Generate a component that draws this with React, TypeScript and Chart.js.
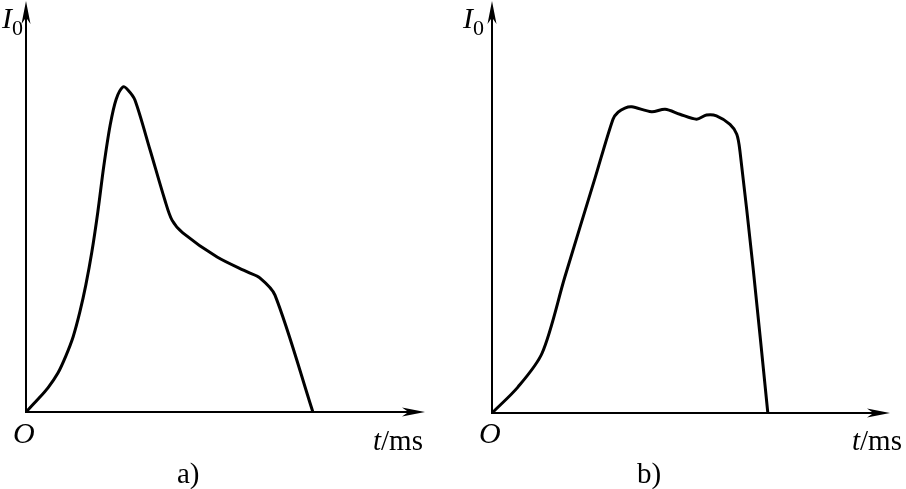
import React, { useEffect, useRef } from "react";
import { Chart, registerables } from "chart.js";

Chart.register(...registerables);

// Panel a) — t (ms, arbitrary units) and I0 (relative)
const timeA = [0, 0.28, 0.55, 0.8, 1.0, 1.18, 1.35, 1.5, 1.65, 1.8, 1.95, 2.11, 2.26, 2.43, 2.56, 2.73, 3.11, 3.48, 3.66, 3.93, 4.79, 5.56, 5.86, 6.24, 7.19];
const currentA = [0, 2.9, 5.9, 9.5, 13.7, 18.3, 24.4, 31.0, 39.0, 48.8, 60.0, 70.0, 76.3, 79.3, 78.5, 76.1, 63.9, 51.7, 46.8, 43.7, 37.8, 34.1, 32.7, 28.5, 0];

// Panel b)
const timeB = [0, 0.65, 1.26, 1.83, 2.59, 3.04, 3.17, 3.34, 3.51, 4.01, 4.35, 4.72, 5.14, 5.39, 5.64, 5.98, 6.15, 6.23, 6.56, 6.93];
const currentB = [0, 6.3, 14.6, 33.1, 57.2, 71.5, 73.2, 74.2, 74.5, 73.3, 73.9, 72.7, 71.5, 72.5, 72.3, 70.2, 67.8, 63.7, 35.3, 0];

const X_MAX = 10;
const Y_MAX = 100;

type Labels = {
  iX: number;
  oX: number;
  tX: number;
  capX: number;
  caption: string;
};

const SERIF = '"Liberation Serif", "DejaVu Serif", serif';

function axesPlugin(lbl: Labels) {
  return {
    id: "axesArrows",
    afterDatasetsDraw(chart: any) {
      const { ctx, chartArea } = chart;
      const { left, right, top, bottom } = chartArea;
      ctx.save();
      ctx.strokeStyle = "#000";
      ctx.fillStyle = "#000";
      ctx.lineWidth = 2;
      // x axis
      ctx.beginPath();
      ctx.moveTo(left, bottom);
      ctx.lineTo(right - 6, bottom);
      ctx.stroke();
      // y axis
      ctx.beginPath();
      ctx.moveTo(left, bottom + 1);
      ctx.lineTo(left, top + 6);
      ctx.stroke();
      const L = 23, W = 4.5, N = 0.72;
      // x arrowhead
      ctx.beginPath();
      ctx.moveTo(right, bottom);
      ctx.lineTo(right - L, bottom - W);
      ctx.lineTo(right - L * N, bottom);
      ctx.lineTo(right - L, bottom + W);
      ctx.closePath();
      ctx.fill();
      // y arrowhead
      ctx.beginPath();
      ctx.moveTo(left, top - 1);
      ctx.lineTo(left - W, top - 1 + L);
      ctx.lineTo(left, top - 1 + L * N);
      ctx.lineTo(left + W, top - 1 + L);
      ctx.closePath();
      ctx.fill();

      ctx.textBaseline = "alphabetic";
      ctx.textAlign = "left";
      // I0
      ctx.font = `italic 30px ${SERIF}`;
      ctx.fillText("I", lbl.iX, 28);
      ctx.font = `22px ${SERIF}`;
      ctx.fillText("0", lbl.iX + 10, 35);
      // O
      ctx.font = `italic 30px ${SERIF}`;
      ctx.fillText("O", lbl.oX, 443);
      // t/ms
      ctx.font = `italic 29px ${SERIF}`;
      ctx.fillText("t", lbl.tX, 450);
      const tw = ctx.measureText("t").width;
      ctx.font = `29px ${SERIF}`;
      ctx.fillText("/ms", lbl.tX + tw, 450);
      // caption
      ctx.font = `29px ${SERIF}`;
      ctx.fillText(lbl.caption, lbl.capX, 483);
      ctx.restore();
    },
  };
}

function Panel(props: {
  xs: number[];
  ys: number[];
  left: number;
  pad: { left: number; right: number; top: number; bottom: number };
  labels: Labels;
}) {
  const ref = useRef<HTMLCanvasElement>(null);
  useEffect(() => {
    const canvas = ref.current;
    if (!canvas) return;
    const data = props.xs.map((x, i) => ({ x, y: props.ys[i] }));
    const chart = new Chart(canvas, {
      type: "line",
      data: {
        datasets: [
          {
            data,
            borderColor: "#000",
            borderWidth: 3,
            pointRadius: 0,
            fill: false,
            tension: 0.3,
            borderCapStyle: "round",
            borderJoinStyle: "round",
          },
        ],
      },
      options: {
        responsive: false,
        animation: false,
        events: [],
        layout: { padding: props.pad },
        plugins: { legend: { display: false }, tooltip: { enabled: false } },
        scales: {
          x: { type: "linear", min: 0, max: X_MAX, display: false },
          y: { type: "linear", min: 0, max: Y_MAX, display: false },
        },
      },
      plugins: [axesPlugin(props.labels)],
    } as any);
    return () => chart.destroy();
  }, []);
  return (
    <canvas
      ref={ref}
      width={453}
      height={489}
      style={{ position: "absolute", left: props.left, top: 0, width: 453, height: 489 }}
    />
  );
}

export default function App() {
  return (
    <div style={{ position: "fixed", left: 0, top: 0, width: 906, height: 489, background: "#fff" }}>
      <Panel
        xs={timeA}
        ys={currentA}
        left={0}
        pad={{ left: 26, right: 28, top: 2, bottom: 77 }}
        labels={{ iX: 2, oX: 13, tX: 373, capX: 177, caption: "a)" }}
      />
      <Panel
        xs={timeB}
        ys={currentB}
        left={453}
        pad={{ left: 39, right: 16, top: 2, bottom: 76 }}
        labels={{ iX: 10, oX: 26, tX: 399, capX: 184, caption: "b)" }}
      />
    </div>
  );
}
